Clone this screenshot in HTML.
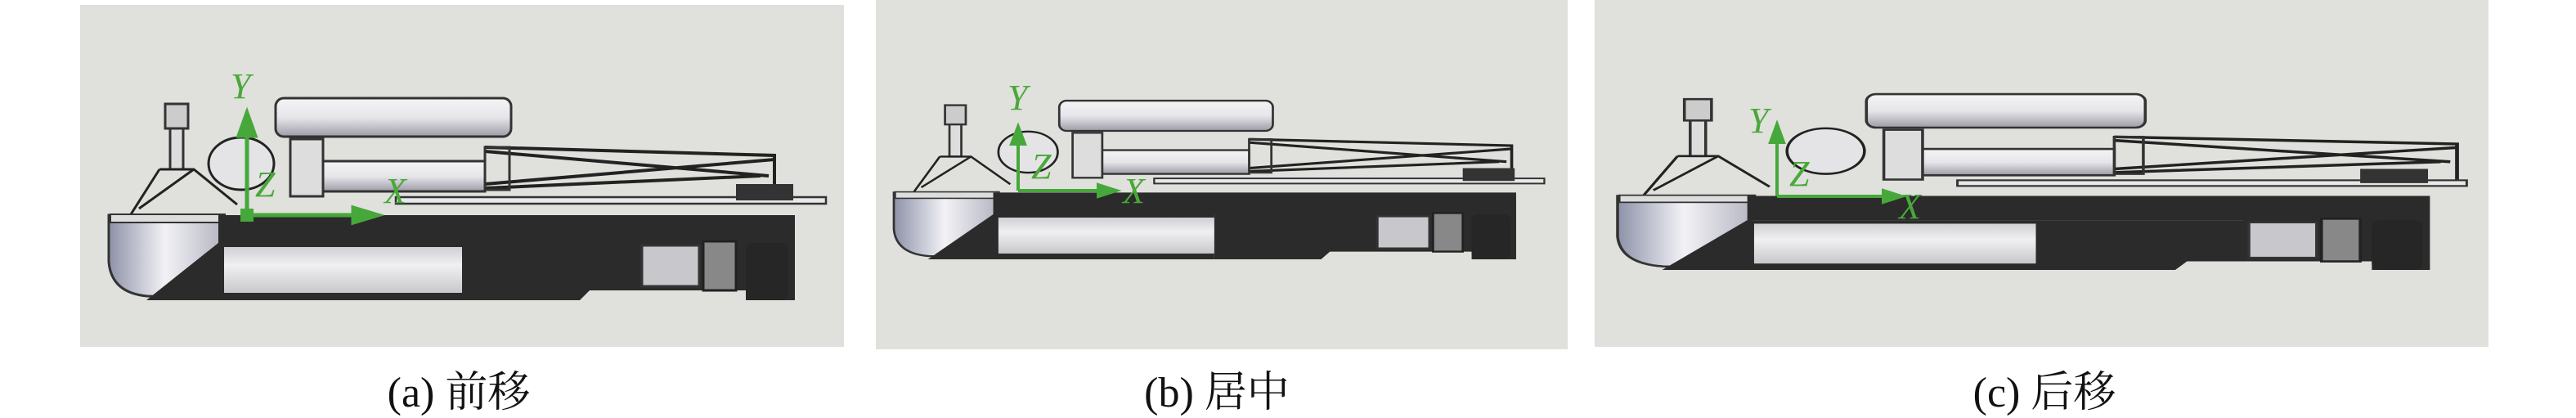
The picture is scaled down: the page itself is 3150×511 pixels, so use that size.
<!DOCTYPE html>
<html><head><meta charset="utf-8"><style>
html,body{margin:0;padding:0;background:#fff;width:3150px;height:511px;overflow:hidden}
svg{display:block}
.lbl{font-family:"Liberation Serif","Noto Serif CJK SC","Noto Sans CJK SC",serif;font-size:52px;fill:#111}
.ax{font-family:"Liberation Serif",serif;font-style:italic;font-size:44px;fill:#4aa83a}
</style></head><body>
<svg width="3150" height="511" viewBox="0 0 3150 511" xmlns="http://www.w3.org/2000/svg">
<defs>
<linearGradient id="cyl" x1="0" y1="0" x2="0" y2="1">
<stop offset="0" stop-color="#f4f4f6"/><stop offset="0.5" stop-color="#e6e6ea"/><stop offset="1" stop-color="#9c9ca6"/></linearGradient>
<linearGradient id="bat" x1="0" y1="0" x2="0" y2="1">
<stop offset="0" stop-color="#d0d0d4"/><stop offset="0.4" stop-color="#f0f0f2"/><stop offset="1" stop-color="#c8c8cc"/></linearGradient>
<linearGradient id="pod" x1="0" y1="0" x2="1" y2="0">
<stop offset="0" stop-color="#8e92a8"/><stop offset="0.5" stop-color="#f2f2f6"/><stop offset="1" stop-color="#b8b8c4"/></linearGradient>
<g id="mov">
 <rect x="337" y="120" width="288" height="47" rx="10" fill="url(#cyl)" stroke="#333" stroke-width="3"/>
 <path d="M593 180 L947 190 L947 240 M593 230 L930 215 M593 185 L940 215 M593 225 L947 195" fill="none" stroke="#222" stroke-width="4"/>
 <rect x="593" y="180" width="30" height="52" fill="none" stroke="#333" stroke-width="3"/>
 <rect x="393" y="197" width="200" height="37" fill="url(#cyl)" stroke="#333" stroke-width="3"/>
 <rect x="355" y="170" width="40" height="70" fill="#ddd" stroke="#333" stroke-width="3"/>
 <ellipse cx="295" cy="200" rx="40" ry="32" fill="#e4e4e6" stroke="#222" stroke-width="3"/>
</g>
<g id="base">
 <rect x="202" y="127" width="28" height="30" fill="#ccc" stroke="#333" stroke-width="3"/>
 <rect x="208" y="157" width="16" height="50" fill="#ddd" stroke="#333" stroke-width="3"/>
 <path d="M195 207 L237 207 L290 250 M195 207 L160 262 M237 207 L170 255" fill="none" stroke="#222" stroke-width="3"/>
 <rect x="484" y="241" width="526" height="8" fill="#e8e8e8" stroke="#333" stroke-width="2.5"/>
 <rect x="900" y="225" width="70" height="20" fill="#333"/>
 <path d="M133 263 L270 263 L270 330 Q230 365 180 362 Q136 358 133 320 Z" fill="url(#pod)" stroke="#333" stroke-width="3"/>
 <rect x="135" y="262" width="140" height="10" fill="#ddd" stroke="#333" stroke-width="2"/>
 <path d="M267 263 L972 263 L972 367 L912 367 L912 355 L709 355 L779 297 L267 297 Z" fill="#2b2b2b"/>
 <path d="M267 297 L565 297 L565 367 L179 367 Z" fill="#2b2b2b"/>
 <path d="M565 297 L779 297 L709 367 L565 367 Z" fill="#2b2b2b"/>
 <rect x="274" y="302" width="291" height="56" fill="url(#bat)"/>
 <rect x="785" y="300" width="70" height="50" fill="#c8c8cc" stroke="#333" stroke-width="3"/>
 <rect x="860" y="295" width="40" height="60" fill="#888" stroke="#222" stroke-width="3"/>
 <rect x="912" y="297" width="52" height="70" rx="8" fill="#262626"/>
</g>
</defs>
<rect x="98" y="6" width="934" height="418" fill="#e0e0dc"/>
<rect x="1071" y="0" width="846" height="427" fill="#e0e0dc"/>
<rect x="1950" y="0" width="1093" height="424" fill="#e0e0dc"/>

<use href="#mov"/><use href="#base"/>
<g transform="translate(1093,317) scale(0.907,0.785) translate(-133,-367)">
 <use href="#mov" transform="translate(19,0)"/><use href="#base"/>
</g>
<g transform="translate(1978,330) scale(1.184,0.87) translate(-133,-367)">
 <use href="#mov" transform="translate(53,0)"/><use href="#base"/>
</g>

<g stroke="#46a83a" stroke-width="5" fill="#46a83a">
 <line x1="302" y1="263" x2="302" y2="160"/><path d="M302 138 L292 166 L312 166 Z"/>
 <line x1="302" y1="263" x2="440" y2="263"/><path d="M462 263 L432 254 L432 272 Z"/>
 <rect x="294" y="255" width="16" height="16" stroke="none"/>
</g>
<text class="ax" x="282" y="120">Y</text><text class="ax" x="312" y="240">Z</text><text class="ax" x="470" y="248">X</text>
<g stroke="#46a83a" stroke-width="4" fill="#46a83a">
 <line x1="1245" y1="233" x2="1245" y2="170"/><path d="M1245 155 L1237 176 L1253 176 Z"/>
 <line x1="1245" y1="233" x2="1348" y2="233"/><path d="M1365 233 L1343 226 L1343 240 Z"/>
</g>
<text class="ax" x="1232" y="134">Y</text><text class="ax" x="1261" y="218">Z</text><text class="ax" x="1373" y="248">X</text>
<g stroke="#46a83a" stroke-width="4" fill="#46a83a">
 <line x1="2173" y1="240" x2="2173" y2="168"/><path d="M2173 152 L2165 174 L2181 174 Z"/>
 <line x1="2173" y1="240" x2="2308" y2="240"/><path d="M2325 240 L2303 233 L2303 247 Z"/>
</g>
<text class="ax" x="2138" y="162">Y</text><text class="ax" x="2188" y="227">Z</text><text class="ax" x="2322" y="267">X</text>

<text class="lbl" x="561" y="497" text-anchor="middle">(a) 前移</text>
<text class="lbl" x="1488" y="497" text-anchor="middle">(b) 居中</text>
<text class="lbl" x="2500" y="497" text-anchor="middle">(c) 后移</text>
</svg>
</body></html>
